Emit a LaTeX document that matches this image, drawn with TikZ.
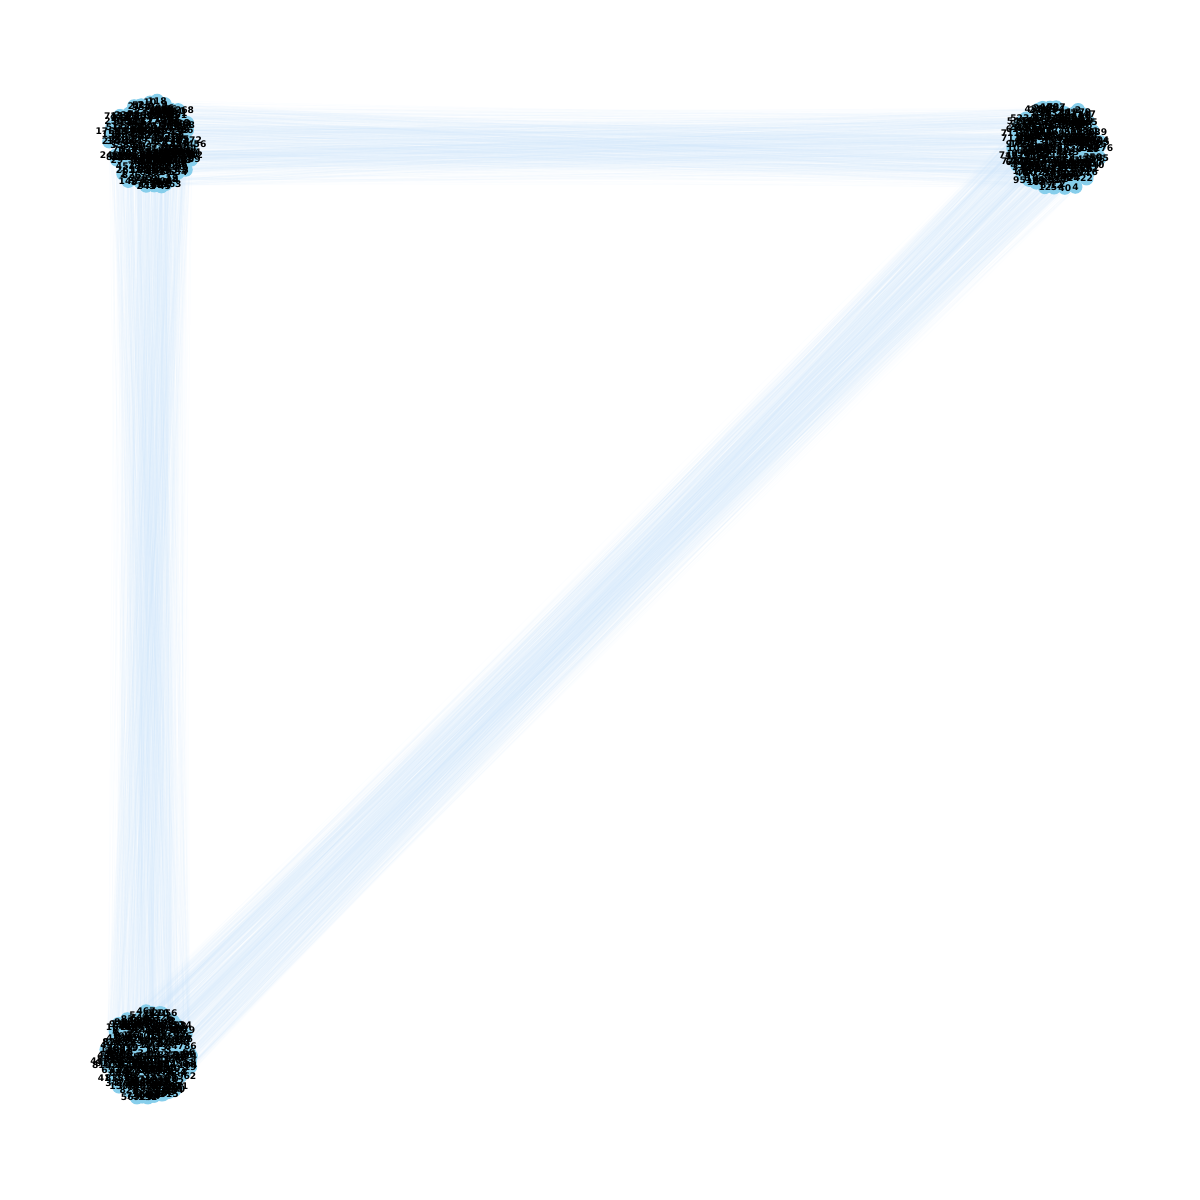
\documentclass[tikz,border=0pt]{standalone}
\usepackage{fontspec}
\setmainfont{DejaVu Sans}
\usetikzlibrary{calc}
\pgfdeclarelayer{bg}
\pgfsetlayers{bg,main}
\definecolor{vtxblue}{RGB}{135,206,235}
\definecolor{edgeblue}{RGB}{205,228,250}
\tikzset{
  vtx/.style={circle, fill=vtxblue, draw=none, minimum size=0.14cm, inner sep=0pt},
  lbl/.style={font=\fontsize{2.6}{3}\selectfont\bfseries, text=black, inner sep=0pt},
  edge/.style={draw=edgeblue, line width=0.25pt, opacity=0.05}
}
\begin{document}
\begin{tikzpicture}
\useasboundingbox (0,0) rectangle (12,12);
\pgfmathsetseed{7}
\coordinate (ca) at (1.51,10.56);
\coordinate (cb) at (10.57,10.53);
\coordinate (cc) at (1.48,1.45);
% vertices
\foreach \cl in {a,b,c} {
  \foreach \i in {1,...,240} {
    \pgfmathsetmacro\rr{0.44*sqrt(rnd)}
    \pgfmathsetmacro\tt{360*rnd}
    \node[vtx] (\cl\i) at ($(c\cl)+(\tt:\rr)$) {};
  }
}
% labels
\foreach \cl in {a,b,c} {
  \foreach \i in {1,...,240} {
    \pgfmathtruncatemacro\lab{10^(0.3+3.6*rnd)}
    \pgfmathrandominteger{\pre}{1}{9}
    \node[lbl] (l\cl\i) at (\cl\i) {\ifnum\lab>999 \pre\fi\lab};
  }
}
% edges
\begin{pgfonlayer}{bg}
\foreach \p/\q in {a/b,a/c,b/c} {
  \foreach \k in {1,...,800} {
    \pgfmathrandominteger{\ii}{1}{240}
    \pgfmathrandominteger{\jj}{1}{240}
    \draw[edge] (\p\ii.center) -- (\q\jj.center);
  }
}
\end{pgfonlayer}
\end{tikzpicture}
\end{document}
